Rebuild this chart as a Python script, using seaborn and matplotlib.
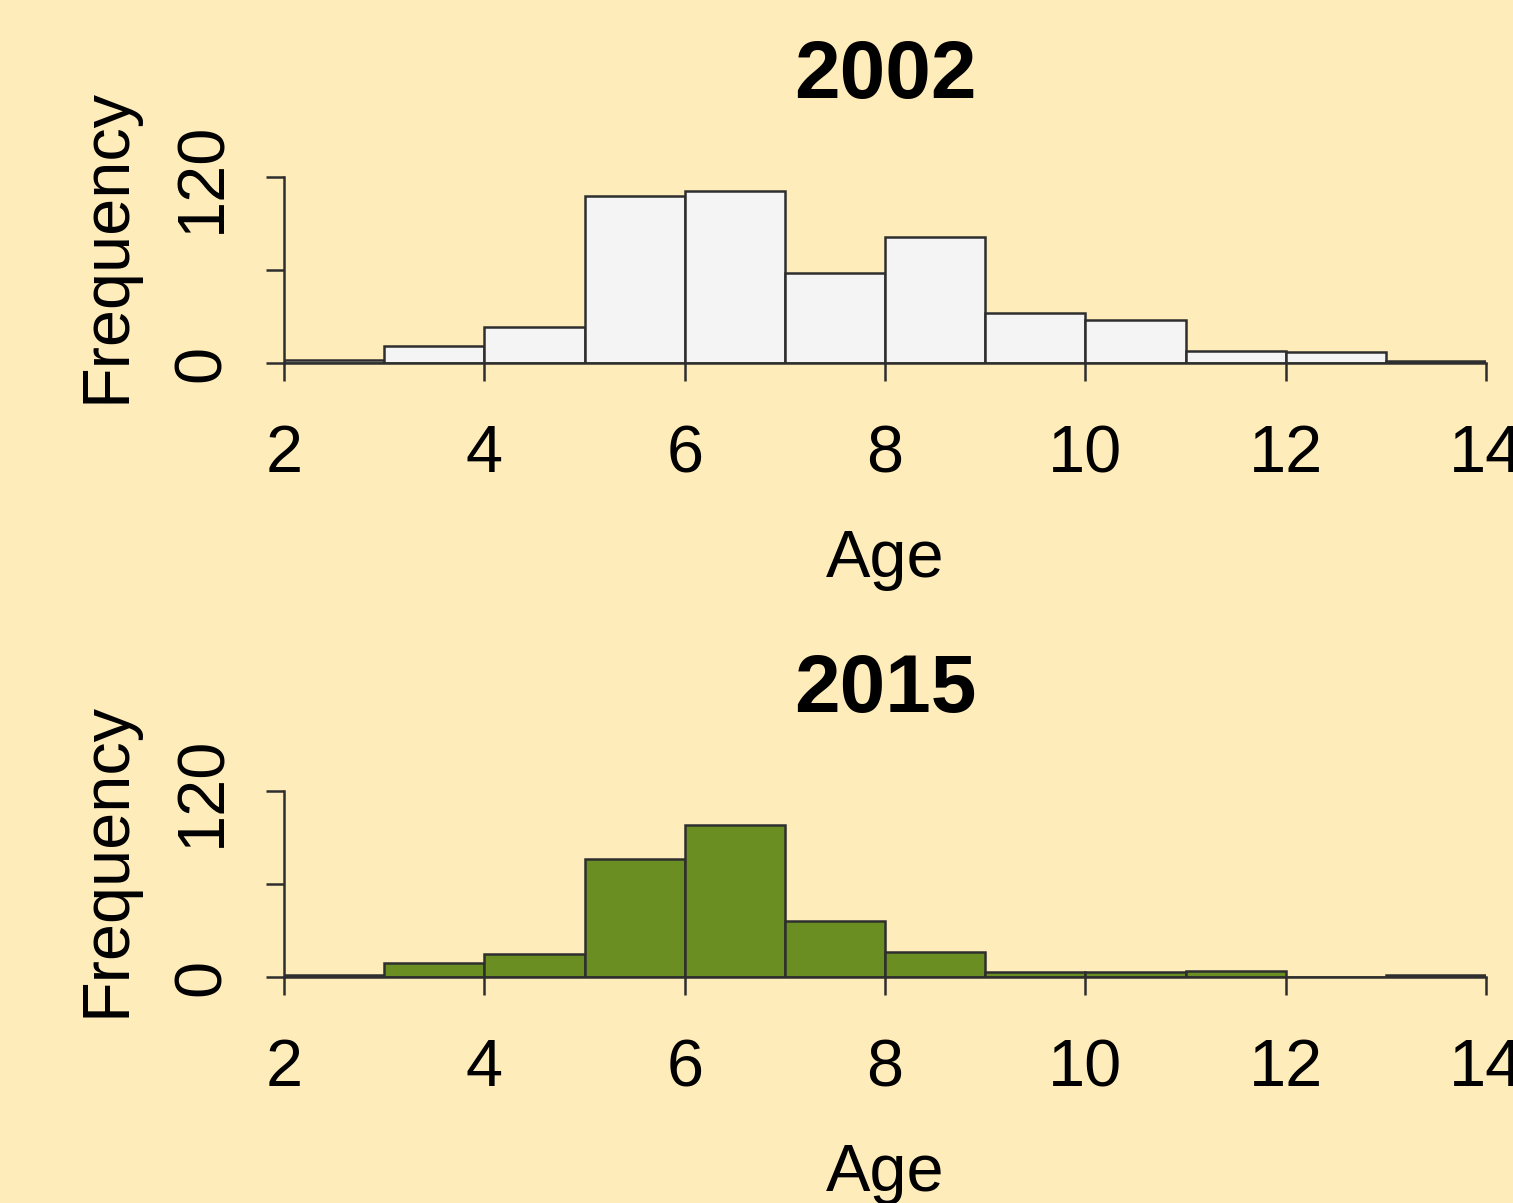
import numpy as np
import pandas as pd
import matplotlib
matplotlib.use("Agg")
import matplotlib.pyplot as plt
import seaborn as sns

# Age bins (years) and fish counts per bin for each survey year
bin_edges = [2, 3, 4, 5, 6, 7, 8, 9, 10, 11, 12, 13, 14]
counts_2002 = [2, 11, 23, 108, 111, 58, 81, 32, 28, 8, 7, 1]
counts_2015 = [1, 9, 15, 76, 98, 36, 16, 3, 3, 4, 0, 1]

years = ["2002", "2015"]
fill_colors = ["#F4F4F4", "#6B8E23"]

x_ticks = [2, 4, 6, 8, 10, 12, 14]
y_ticks = [0, 60, 120]
y_tick_labels = ["0", "", "120"]

BG = "#FFECBB"
EDGE = "#2E2E2E"

sns.set_theme(style="ticks")
plt.rcParams["font.family"] = ["Liberation Sans", "DejaVu Sans"]
plt.rcParams["figure.facecolor"] = BG
plt.rcParams["axes.facecolor"] = BG

W, H = 1513, 1203
fig = plt.figure(figsize=(W / 100, H / 100), dpi=100)

# axes placed in pixel terms: x 2..14 -> 284..1486 px, y 0..120 spans 186 px
ax_left, ax_right = 284, 1486
zero_rows = [363, 977]
ax_h = 186

centers = [(a + b) / 2 for a, b in zip(bin_edges[:-1], bin_edges[1:])]
all_counts = [counts_2002, counts_2015]

for year, counts, color, zero_y in zip(years, all_counts, fill_colors, zero_rows):
    ax = fig.add_axes([ax_left / W, (H - zero_y) / H,
                       (ax_right - ax_left) / W, ax_h / H])
    df = pd.DataFrame({"Age": centers, "n": counts})
    sns.histplot(data=df, x="Age", weights="n", bins=bin_edges, ax=ax,
                 color=color, alpha=1.0, edgecolor=EDGE, linewidth=1.8)
    ax.set_xlim(2, 14)
    ax.set_ylim(0, 120)
    ax.set_facecolor(BG)
    for s in ["top", "right"]:
        ax.spines[s].set_visible(False)
    for s in ["left", "bottom"]:
        ax.spines[s].set_color(EDGE)
        ax.spines[s].set_linewidth(1.8)
        ax.spines[s].set_zorder(5)

    ax.set_xticks(x_ticks)
    ax.set_xticklabels([str(t) for t in x_ticks])
    ax.set_yticks(y_ticks, labels=y_tick_labels, rotation=90, va="center")
    ax.tick_params(axis="both", direction="out", length=13, width=1.8,
                   color=EDGE, labelsize=48, labelcolor="black")
    ax.tick_params(axis="x", pad=31)
    ax.tick_params(axis="y", pad=23)

    ax.set_title(year, fontsize=59, fontweight="bold", pad=57, color="black")

    ax.set_xlabel("Age", fontsize=48, color="black")
    ax.xaxis.set_label_coords(0.5, -214 / ax_h)
    ax.xaxis.label.set_va("baseline")

    ax.set_ylabel("Frequency", fontsize=48, color="black")
    ax.yaxis.set_label_coords((125 - ax_left) / (ax_right - ax_left), 0.632)
    ax.yaxis.label.set_va("baseline")

fig.savefig("out.png", dpi=100, facecolor=BG)
